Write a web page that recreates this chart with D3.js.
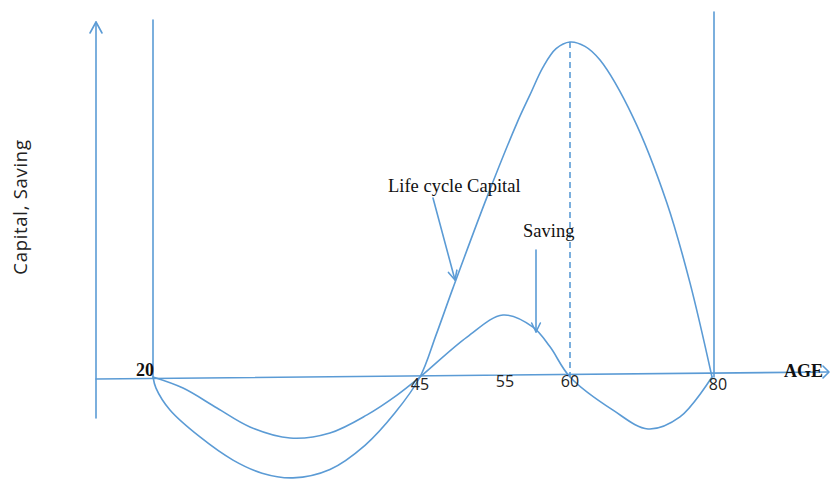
<!DOCTYPE html>
<html>
<head>
<meta charset="utf-8">
<script src="https://cdn.jsdelivr.net/npm/d3@7"></script>
<style>
  html, body { margin: 0; padding: 0; background: #fff; }
  svg { display: block; }
</style>
</head>
<body>
<svg id="chart" width="831" height="479"></svg>
<script>
// ---- data (schematic: age vs. value units) ----
const ageTicks = [20, 45, 55, 60, 80];
const ageTickLabels = ["20", "45", "55", "60", "80"];

const capitalAges   = [20, 20.28, 21.59, 24.40, 27.49, 30.21, 33.11, 36.57, 39.85, 42.66, 45, 46.93, 48.98, 53.07, 56.04, 57.01, 57.99, 58.96, 60, 62.11, 64.23, 68.87, 73.66, 76.90, 80];
const capitalValues = [0, -3.3, -9.85, -17.9, -24.8, -28.7, -30.1, -27.6, -20.4, -10.7, 0, 12.5, 26.6, 53.7, 75.8, 84.2, 92.5, 98.0, 100, 98.7, 94.6, 77.6, 51.9, 28.1, 0];

const savingAges   = [20, 22.81, 25.99, 29.08, 32.83, 36.57, 40.04, 42.85, 45, 50.66, 55, 57.24, 58.51, 60, 66.06, 70.99, 75.49, 80];
const savingValues = [0, -3.3, -9.25, -14.9, -18.2, -16.7, -11.3, -5.4, 0, 11.9, 18.5, 14.9, 9.0, 0, -9.9, -15.5, -11.9, 0];

const peakAge = 60, peakValue = 100;

const labels = {
  yTitle: "Capital, Saving",
  xTitle: "AGE",
  capital: "Life cycle Capital",
  saving: "Saving"
};

// ---- scales (schematic, piecewise) ----
const x = d3.scaleLinear().domain([17.9, 20, 45, 55, 60, 80, 88.3]).range([96, 153, 420, 503, 570, 712, 828]);
const y = d3.scaleLinear().domain([0, 100]).range([377, 42]);

const blue = "#5B9BD5";
const svg = d3.select("#chart");

const g = svg.append("g").attr("fill", "none").attr("stroke", blue).attr("stroke-width", 1.6)
  .attr("stroke-linecap", "round").attr("stroke-linejoin", "round");

// y axis with arrow
g.append("line").attr("x1", x(17.9)).attr("x2", x(17.9)).attr("y1", 418).attr("y2", 22);
g.append("path").attr("d", `M${x(17.9)-6},${33} L${x(17.9)},${22} L${x(17.9)+6},${33}`);

// x axis (slightly tilted as in source) with arrow
g.append("line").attr("x1", x(17.9)).attr("y1", 379).attr("x2", x(88.3)).attr("y2", 372);
g.append("path").attr("d", `M${x(88.3)-5},${366} L${x(88.3)+1},${372} L${x(88.3)-5},${378}`);

// vertical lines at 20 and 80
g.append("line").attr("x1", x(20)).attr("x2", x(20)).attr("y1", 20).attr("y2", y(0));
g.append("line").attr("x1", x(80)+2).attr("x2", x(80)+2).attr("y1", 12).attr("y2", y(0));

// dashed line at peak
g.append("line").attr("x1", x(peakAge)).attr("x2", x(peakAge)).attr("y1", y(peakValue)).attr("y2", y(0))
  .attr("stroke-dasharray", "6,4").attr("stroke-linecap", "butt");

// curves
const line = d3.line().x(d => x(d[0])).y(d => y(d[1])).curve(d3.curveCatmullRom.alpha(0.5));
g.append("path").attr("d", line(capitalAges.map((a, i) => [a, capitalValues[i]])));
g.append("path").attr("d", line(savingAges.map((a, i) => [a, savingValues[i]])));

// pointer arrows
function arrow(x1, y1, x2, y2) {
  g.append("line").attr("x1", x1).attr("y1", y1).attr("x2", x2).attr("y2", y2);
  const ang = Math.atan2(y2 - y1, x2 - x1);
  const L = 10, w = 0.45;
  const p1 = [x2 - L * Math.cos(ang - w), y2 - L * Math.sin(ang - w)];
  const p2 = [x2 - L * Math.cos(ang + w), y2 - L * Math.sin(ang + w)];
  g.append("path").attr("d", `M${p1[0]},${p1[1]} L${x2},${y2} L${p2[0]},${p2[1]}`);
}
arrow(433, 198, 455, 280);
arrow(536, 250, 536, 332);

// tick labels
ageTicks.forEach((a, i) => {
  if (a === 20) {
    svg.append("text").attr("x", x(a) - 8).attr("y", 376)
      .attr("text-anchor", "middle")
      .attr("font-family", "Liberation Serif, Times New Roman, serif")
      .attr("font-weight", "bold").attr("font-size", 18).attr("fill", "#111")
      .text(ageTickLabels[i]);
  } else {
    const dx = a === 80 ? 6 : (a === 55 ? 2 : 0);
    const yy = (a === 45 || a === 80) ? 390 : 387;
    svg.append("text").attr("x", x(a) + dx).attr("y", yy)
      .attr("text-anchor", "middle")
      .attr("font-family", "Open Sans, Liberation Sans, sans-serif")
      .attr("font-size", 16).attr("fill", "#222")
      .text(ageTickLabels[i]);
  }
});

// axis titles
svg.append("text").attr("x", 823).attr("y", 377).attr("text-anchor", "end")
  .attr("font-family", "Liberation Serif, Times New Roman, serif")
  .attr("font-weight", "bold").attr("font-size", 18).attr("fill", "#111")
  .text(labels.xTitle);

svg.append("text").attr("transform", "translate(26.5,207) rotate(-90)")
  .attr("text-anchor", "middle")
  .attr("font-family", "Open Sans, sans-serif")
  .attr("font-size", 18.5).attr("letter-spacing", 0.7).attr("fill", "#222")
  .text(labels.yTitle);

// annotations
svg.append("text").attr("x", 388).attr("y", 192)
  .attr("font-family", "Liberation Serif, Times New Roman, serif")
  .attr("font-size", 18.5).attr("fill", "#111")
  .text(labels.capital);
svg.append("text").attr("x", 523).attr("y", 237)
  .attr("font-family", "Liberation Serif, Times New Roman, serif")
  .attr("font-size", 18.5).attr("fill", "#111")
  .text(labels.saving);
</script>
</body>
</html>
